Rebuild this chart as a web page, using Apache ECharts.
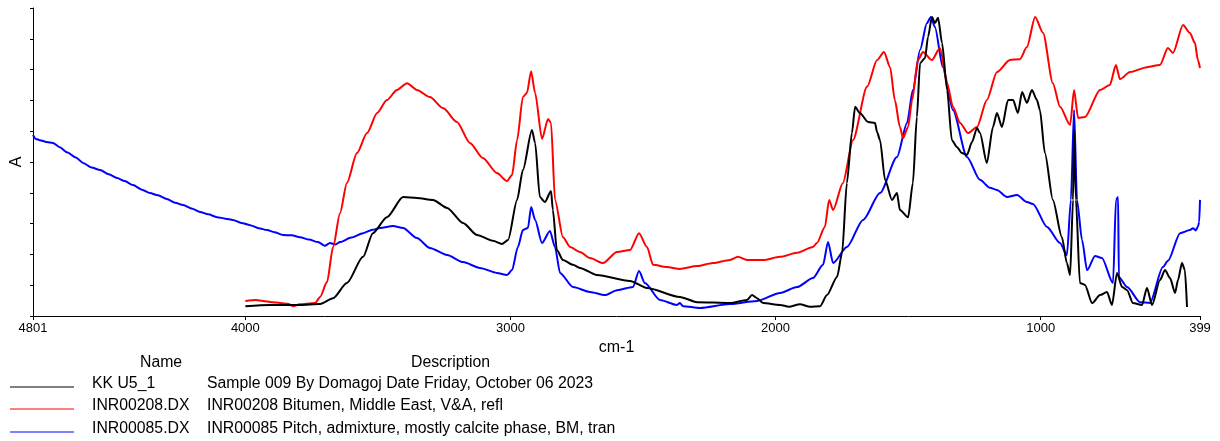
<!DOCTYPE html>
<html>
<head>
<meta charset="utf-8">
<script src="https://cdn.jsdelivr.net/npm/echarts@6/dist/echarts.min.js"></script>
<style>
html,body{margin:0;padding:0;background:#fff;}
#chart{width:1220px;height:441px;}
</style>
</head>
<body>
<div id="chart"></div>
<script>
// ---- data (wavenumber cm-1, absorbance in arbitrary units) ----
var xTicks = [4801, 4000, 3000, 2000, 1000, 399];

var seriesNames = ['KK U5_1', 'INR00208.DX', 'INR00085.DX'];
var seriesDescriptions = [
  'Sample 009 By Domagoj Date Friday, October 06 2023',
  'INR00208 Bitumen, Middle East, V&A, refl',
  'INR00085 Pitch, admixture, mostly calcite phase, BM, tran'
];

var blackWn = [4000,3907,3794,3718,3669,3617,3556,3519,3466,3405,3353,3292,3239,3179,3126,3066,3032,3009,2975,2953,2919,2907,2889,2870,2847,2840,2825,2802,2764,2738,2674,2549,2485,2361,2296,2172,2108,2089,2070,2047,1983,1950,1908,1870,1832,1806,1768,1749,1731,1712,1700,1682,1651,1625,1617,1606,1587,1561,1542,1531,1500,1482,1467,1455,1436,1425,1410,1399,1387,1372,1353,1335,1316,1297,1278,1259,1240,1229,1203,1180,1165,1146,1123,1104,1086,1070,1052,1033,1014,1003,984,954,920,901,889,878,874,867,852,833,806,776,750,731,712,693,674,652,618,599,580,550,531,512,493,482,467,456,448];
var blackAbs = [0.032,0.036,0.036,0.039,0.058,0.107,0.192,0.269,0.321,0.386,0.383,0.377,0.351,0.302,0.263,0.244,0.234,0.247,0.377,0.474,0.604,0.562,0.386,0.370,0.406,0.344,0.214,0.182,0.166,0.156,0.133,0.114,0.091,0.062,0.045,0.042,0.052,0.068,0.058,0.042,0.036,0.030,0.038,0.030,0.032,0.068,0.127,0.205,0.432,0.594,0.679,0.659,0.630,0.627,0.597,0.571,0.442,0.377,0.399,0.344,0.321,0.432,0.646,0.821,0.838,0.906,0.971,0.951,0.968,0.886,0.734,0.571,0.549,0.529,0.523,0.565,0.610,0.594,0.497,0.614,0.659,0.614,0.701,0.701,0.659,0.727,0.692,0.734,0.701,0.669,0.529,0.377,0.256,0.172,0.133,0.377,0.604,0.377,0.107,0.101,0.042,0.068,0.078,0.036,0.140,0.094,0.084,0.042,0.036,0.091,0.036,0.117,0.149,0.123,0.075,0.117,0.172,0.149,0.029];

var redWn = [4000,3960,3933,3900,3869,3840,3820,3795,3775,3737,3718,3692,3669,3643,3617,3579,3541,3503,3466,3428,3390,3353,3304,3254,3202,3153,3104,3051,3013,2994,2975,2953,2938,2922,2907,2881,2858,2847,2832,2802,2775,2738,2700,2651,2598,2549,2515,2485,2462,2410,2361,2296,2236,2172,2142,2108,2047,1983,1919,1859,1844,1814,1798,1783,1746,1708,1655,1617,1591,1568,1550,1531,1519,1500,1485,1463,1444,1410,1380,1353,1331,1304,1274,1240,1203,1165,1116,1078,1052,1021,991,954,927,889,874,859,833,776,739,716,701,663,599,550,520,501,463,437,418,407,399];
var redAbs = [0.049,0.052,0.049,0.045,0.042,0.040,0.032,0.038,0.039,0.042,0.062,0.110,0.224,0.334,0.432,0.529,0.594,0.659,0.701,0.734,0.756,0.734,0.711,0.675,0.630,0.562,0.513,0.464,0.438,0.458,0.571,0.711,0.724,0.795,0.724,0.575,0.640,0.627,0.377,0.256,0.224,0.208,0.188,0.172,0.208,0.214,0.269,0.224,0.166,0.159,0.153,0.162,0.172,0.182,0.192,0.182,0.182,0.192,0.205,0.224,0.237,0.289,0.377,0.344,0.432,0.571,0.744,0.831,0.857,0.808,0.701,0.614,0.578,0.614,0.701,0.831,0.857,0.831,0.870,0.756,0.679,0.627,0.594,0.614,0.701,0.792,0.831,0.834,0.873,0.971,0.919,0.756,0.679,0.620,0.734,0.643,0.646,0.734,0.750,0.815,0.769,0.792,0.808,0.815,0.870,0.854,0.945,0.919,0.886,0.831,0.805];

var blueWn = [4801,4790,4775,4750,4726,4700,4673,4640,4612,4580,4548,4515,4484,4455,4424,4390,4360,4330,4296,4265,4235,4200,4171,4140,4107,4075,4047,4015,3982,3950,3918,3890,3858,3825,3794,3760,3726,3700,3681,3660,3643,3600,3556,3520,3492,3443,3405,3353,3304,3239,3179,3115,3051,3013,2994,2972,2953,2934,2922,2907,2881,2851,2832,2813,2764,2700,2643,2598,2538,2515,2493,2436,2372,2361,2349,2285,2172,2070,1983,1919,1859,1821,1802,1783,1731,1670,1606,1542,1504,1482,1455,1429,1414,1399,1369,1331,1278,1229,1191,1165,1127,1089,1052,1029,976,927,901,886,874,863,844,825,795,769,727,716,708,705,674,625,588,539,520,474,437,425,415,407,402,399];
var blueAbs = [0.588,0.575,0.571,0.565,0.562,0.548,0.532,0.515,0.497,0.482,0.474,0.460,0.448,0.438,0.425,0.410,0.399,0.392,0.380,0.368,0.360,0.348,0.338,0.330,0.321,0.316,0.312,0.302,0.295,0.285,0.279,0.272,0.263,0.262,0.256,0.248,0.240,0.228,0.237,0.232,0.240,0.255,0.269,0.280,0.286,0.292,0.286,0.253,0.221,0.198,0.175,0.156,0.140,0.133,0.149,0.224,0.279,0.286,0.354,0.312,0.237,0.276,0.224,0.140,0.094,0.078,0.068,0.084,0.094,0.146,0.107,0.052,0.036,0.042,0.032,0.026,0.039,0.049,0.075,0.094,0.123,0.166,0.240,0.172,0.224,0.312,0.399,0.516,0.627,0.734,0.864,0.951,0.971,0.938,0.808,0.669,0.516,0.442,0.416,0.409,0.386,0.393,0.370,0.364,0.289,0.237,0.198,0.377,0.669,0.377,0.247,0.149,0.195,0.188,0.107,0.377,0.386,0.127,0.094,0.045,0.042,0.159,0.179,0.269,0.279,0.285,0.278,0.290,0.305,0.377];

function pairs(wn, ab){ var out=[]; for(var i=0;i<wn.length;i++){ out.push([wn[i], ab[i]]); } return out; }

var colors = ['#000000', '#ff0000', '#0000ff'];
var chart = echarts.init(document.getElementById('chart'), null, {renderer:'canvas'});

var FONT = 'Liberation Sans, Arial, sans-serif';
var LFS = '15.8px ';

var legendGraphics = [];
legendGraphics.push({type:'text', left:140, top:355, style:{text:'Name', font:LFS+FONT, fill:'#000', textAlign:'center'}});
legendGraphics.push({type:'text', left:411, top:355, style:{text:'Description', font:LFS+FONT, fill:'#000', textAlign:'center'}});
var rowY = [384, 406, 429];
for (var i=0;i<seriesNames.length;i++){
  legendGraphics.push({type:'line', shape:{x1:10, y1:rowY[i]+3, x2:74, y2:rowY[i]+3}, style:{stroke:colors[i], lineWidth:1}});
  legendGraphics.push({type:'text', x:92, y:rowY[i], style:{text:seriesNames[i], font:LFS+FONT, fill:'#000', verticalAlign:'middle'}});
  legendGraphics.push({type:'text', x:207, y:rowY[i], style:{text:seriesDescriptions[i], font:LFS+FONT, fill:'#000', verticalAlign:'middle'}});
}

var option = {
  animation:false,
  backgroundColor:'#ffffff',
  grid:{left:33, right:20, top:8, bottom:125, containLabel:false},
  xAxis:{
    type:'value', inverse:true, min:399, max:4801,
    name:'cm-1', nameLocation:'middle', nameGap:22,
    nameTextStyle:{fontFamily:FONT, fontSize:16, color:'#000'},
    axisLine:{show:true, onZero:false, lineStyle:{color:'#000', width:1}},
    axisTick:{show:true, length:4, customValues:xTicks, lineStyle:{color:'#000'}},
    axisLabel:{show:true, customValues:xTicks, margin:6, fontFamily:FONT, fontSize:13, color:'#000',
      formatter:function(v){return String(Math.round(v));}},
    splitLine:{show:false}
  },
  yAxis:{
    type:'value', min:0, max:1, interval:0.1,
    name:'A', nameLocation:'middle', nameGap:8, nameRotate:90,
    nameTextStyle:{fontFamily:FONT, fontSize:16, color:'#000'},
    axisLine:{show:true, onZero:false, lineStyle:{color:'#000', width:1}},
    axisTick:{show:true, length:3, lineStyle:{color:'#000'}},
    axisLabel:{show:false},
    splitLine:{show:false}
  },
  series:[
    {name:seriesNames[2], type:'line', data:pairs(blueWn, blueAbs), showSymbol:false, symbol:'none', smooth:0.25, smoothMonotone:'x', lineStyle:{color:colors[2], width:2}, z:2},
    {name:seriesNames[1], type:'line', data:pairs(redWn, redAbs), showSymbol:false, symbol:'none', smooth:0.25, smoothMonotone:'x', lineStyle:{color:colors[1], width:2}, z:3},
    {name:seriesNames[0], type:'line', data:pairs(blackWn, blackAbs), showSymbol:false, symbol:'none', smooth:0.25, smoothMonotone:'x', lineStyle:{color:colors[0], width:2}, z:4}
  ],
  graphic:legendGraphics
};
chart.setOption(option);
</script>
</body>
</html>
